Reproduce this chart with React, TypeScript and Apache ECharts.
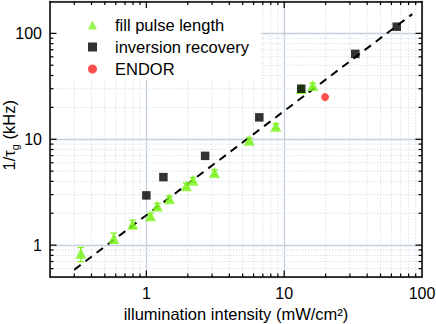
import React, { useEffect, useRef } from "react";
import * as echarts from "echarts";

// ---- data ----
const fillX = [0.335, 0.58, 0.796, 1.07, 1.2, 1.47, 1.95, 2.18, 3.12, 5.58, 8.71, 13.3, 16.1];
const fillY = [0.84, 1.16, 1.58, 1.89, 2.34, 2.74, 3.64, 4.11, 4.86, 9.78, 13.3, 30.2, 32.2];
const fillLo = [0.70, 1.04, 1.43, 1.78, 2.2, 2.6, 3.45, 3.9, 4.6, 9.3, 12.6, 28.6, 30.5];
const fillHi = [0.95, 1.30, 1.72, 2.0, 2.48, 2.9, 3.85, 4.35, 5.15, 10.3, 14.0, 31.8, 33.9];

const invX = [1.0, 1.33, 2.67, 6.6, 13.3, 32.8, 65.6];
const invY = [2.95, 4.39, 6.97, 16.1, 30.0, 64.0, 115.6];

const endorX = [19.8];
const endorY = [25.0];

const fitX = [0.3, 85];
const fitY = [0.586, 152];

const xMajor = [1, 10];
const yMajor = [1, 10, 100];
const xMinor = [0.3, 0.4, 0.5, 0.6, 0.7, 0.8, 0.9, 2, 3, 4, 5, 6, 7, 8, 9, 20, 30, 40, 50, 60, 70, 80, 90];
const yMinor = [0.6, 0.7, 0.8, 0.9, 2, 3, 4, 5, 6, 7, 8, 9, 20, 30, 40, 50, 60, 70, 80, 90];

const X_MIN = 0.2;
const X_MAX = 100;
const Y_MIN = 0.5;
const Y_MAX = 200;

const seriesNames = ["fill pulse length", "inversion recovery", "ENDOR"];

const FONT = "Liberation Sans, Arial, Helvetica, sans-serif";
const GREEN = "#7cf31e";
const MINOR_GRID = "#d9e2ea";
const MAJOR_GRID = "#c3cfda";

const labelFmt = (v: number) => {
  const l = Math.log10(v);
  return Math.abs(l - Math.round(l)) < 1e-6 ? String(Math.round(v)) : "";
};

export default function App() {
  const ref = useRef<HTMLDivElement>(null);
  useEffect(() => {
    if (!ref.current) return;
    const chart = echarts.init(ref.current, undefined, { renderer: "svg" });

    const axisCommon = {
      type: "log" as const,
      logBase: 10,
      axisLine: { show: true, lineStyle: { color: "#000", width: 1.5 } },
      axisTick: { show: false },
    };

    const tickLine = (x1: number, y1: number, x2: number, y2: number) => ({
      type: "line",
      shape: { x1, y1, x2, y2 },
      style: { stroke: "#000", lineWidth: 1.2 },
    });

    const option: any = {
      animation: false,
      textStyle: { fontFamily: FONT },
      grid: { left: 50, right: 14, top: 1.5, bottom: 47, containLabel: false, outerBoundsMode: "none" },
      graphic: [
        {
          type: "rect",
          z: 3,
          silent: true,
          shape: { x: 51, y: 2.4, width: 210, height: 78 },
          style: { fill: "#ffffff" },
        },
      ],
      legend: {
        data: seriesNames,
        orient: "vertical",
        left: 88,
        top: 16,
        padding: 0,
        itemWidth: 9,
        itemHeight: 9,
        itemGap: 4,
        z: 5,
        textStyle: {
          fontFamily: FONT,
          fontSize: 16.5,
          color: "#000",
          lineHeight: 18,
          padding: [0, 0, 0, 13],
        },
      },
      xAxis: [
        {
          ...axisCommon,
          min: X_MIN,
          max: X_MAX,
          position: "bottom",
          name: "illumination intensity (mW/cm²)",
          nameLocation: "middle",
          nameGap: 28,
          nameMoveOverlap: false,
          nameTextStyle: { fontFamily: FONT, fontSize: 16.5, color: "#000" },
          axisLabel: { formatter: labelFmt, fontFamily: FONT, fontSize: 16, color: "#000", margin: 8 },
          splitLine: { show: true, lineStyle: { color: MAJOR_GRID, width: 1.3 } },
        },
        {
          ...axisCommon,
          min: X_MIN,
          max: X_MAX,
          position: "top",
          z: 6,
          axisLabel: { show: false },
          splitLine: { show: false },
        },
      ],
      yAxis: [
        {
          ...axisCommon,
          min: Y_MIN,
          max: Y_MAX,
          position: "left",
          name: "1/τ{sub|g} (kHz)",
          nameLocation: "middle",
          nameRotate: 90,
          nameGap: 30,
          nameMoveOverlap: false,
          nameTextStyle: {
            fontFamily: FONT,
            fontSize: 16.5,
            color: "#000",
            lineHeight: 22,
            padding: [0, 0, 0, 8],
            rich: {
              sub: { fontFamily: FONT, fontSize: 11, lineHeight: 11, verticalAlign: "bottom", color: "#000" },
            },
          },
          axisLabel: { formatter: labelFmt, fontFamily: FONT, fontSize: 16, color: "#000", margin: 8 },
          splitLine: { show: true, lineStyle: { color: MAJOR_GRID, width: 1.3 } },
        },
        {
          ...axisCommon,
          min: Y_MIN,
          max: Y_MAX,
          position: "right",
          axisLabel: { show: false },
          splitLine: { show: false },
        },
      ],
      series: [
        {
          type: "custom",
          name: "xminorgrid",
          silent: true,
          z: 0,
          data: xMinor.map((v) => [v, Y_MIN]),
          renderItem: (params: any, api: any) => {
            const v = api.value(0);
            const b = api.coord([v, Y_MIN]);
            const t = api.coord([v, Y_MAX]);
            return { type: "line", shape: { x1: b[0], y1: b[1], x2: t[0], y2: t[1] }, style: { stroke: MINOR_GRID, lineWidth: 1, lineDash: [1.5, 1.5] } };
          },
        },
        {
          type: "custom",
          name: "yminorgrid",
          silent: true,
          z: 0,
          data: yMinor.map((v) => [X_MIN, v]),
          renderItem: (params: any, api: any) => {
            const v = api.value(1);
            const l = api.coord([X_MIN, v]);
            const r = api.coord([X_MAX, v]);
            return { type: "line", shape: { x1: l[0], y1: l[1], x2: r[0], y2: r[1] }, style: { stroke: MINOR_GRID, lineWidth: 1, lineDash: [1.5, 1.5] } };
          },
        },
        {
          type: "custom",
          name: "xticks",
          silent: true,
          z: 10,
          data: [...xMajor.map((v) => [v, 1]), ...xMinor.map((v) => [v, 0])],
          renderItem: (params: any, api: any) => {
            const v = api.value(0);
            const len = api.value(1) ? 6.5 : 3.5;
            const b = api.coord([v, Y_MIN]);
            const t = api.coord([v, Y_MAX]);
            return {
              type: "group",
              children: [tickLine(b[0], b[1], b[0], b[1] - len), tickLine(t[0], t[1], t[0], t[1] + len)],
            };
          },
        },
        {
          type: "custom",
          name: "yticks",
          silent: true,
          z: 10,
          data: [...yMajor.map((v) => [X_MIN, v, 1]), ...yMinor.map((v) => [X_MIN, v, 0])],
          renderItem: (params: any, api: any) => {
            const v = api.value(1);
            const len = api.value(2) ? 6.5 : 3.5;
            const l = api.coord([X_MIN, v]);
            const r = api.coord([X_MAX, v]);
            return {
              type: "group",
              children: [tickLine(l[0], l[1], l[0] + len, l[1]), tickLine(r[0], r[1], r[0] - len, r[1])],
            };
          },
        },
        {
          type: "line",
          name: "fit",
          data: fitX.map((x, i) => [x, fitY[i]]),
          symbol: "none",
          lineStyle: { color: "#000", width: 2, type: [8, 6] },
          z: 2,
          silent: true,
        },
        {
          type: "custom",
          name: "errors",
          silent: true,
          z: 3,
          data: fillX.map((x, i) => [x, fillLo[i], fillHi[i]]),
          renderItem: (params: any, api: any) => {
            const x = api.value(0);
            const lo = api.coord([x, api.value(1)]);
            const hi = api.coord([x, api.value(2)]);
            const w = 3.5;
            const st = { stroke: GREEN, lineWidth: 1.2 };
            return {
              type: "group",
              children: [
                { type: "line", shape: { x1: lo[0], y1: lo[1], x2: hi[0], y2: hi[1] }, style: st },
                { type: "line", shape: { x1: lo[0] - w, y1: lo[1], x2: lo[0] + w, y2: lo[1] }, style: st },
                { type: "line", shape: { x1: hi[0] - w, y1: hi[1], x2: hi[0] + w, y2: hi[1] }, style: st },
              ],
            };
          },
        },
        {
          type: "scatter",
          name: seriesNames[0],
          data: fillX.map((x, i) => [x, fillY[i]]),
          symbol: "triangle",
          symbolSize: 11,
          itemStyle: { color: GREEN },
          z: 4,
        },
        {
          type: "scatter",
          name: seriesNames[1],
          data: invX.map((x, i) => [x, invY[i]]),
          symbol: "rect",
          symbolSize: 8.5,
          itemStyle: { color: "#000" },
          z: 5,
        },
        {
          type: "scatter",
          name: seriesNames[2],
          data: endorX.map((x, i) => [x, endorY[i]]),
          symbol: "circle",
          symbolSize: 8,
          itemStyle: { color: "#ff2222" },
          z: 5,
        },
      ],
    };

    chart.setOption(option);
    return () => chart.dispose();
  }, []);

  return <div ref={ref} style={{ width: 436, height: 324, position: "absolute", left: 0, top: 0 }} />;
}
